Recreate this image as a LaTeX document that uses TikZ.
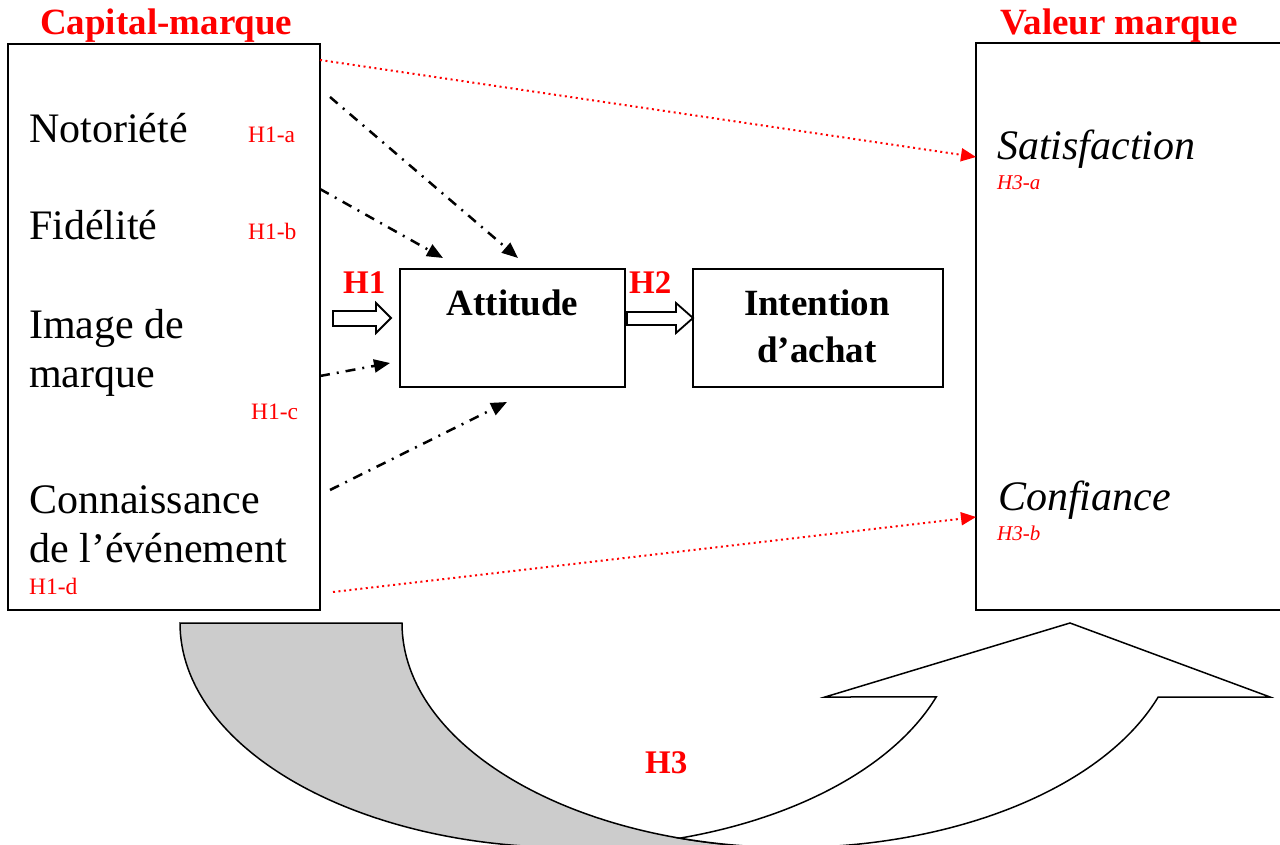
\documentclass[tikz,border=0pt]{standalone}
\usepackage{fontspec}
\setmainfont{Liberation Serif}
\usetikzlibrary{arrows.meta}
\definecolor{hred}{RGB}{255,0,0}
\definecolor{shade}{RGB}{204,204,204}
\tikzset{
  lbl/.style={inner sep=0pt, anchor=base west, font=\fontsize{42}{48}\selectfont},
  ilbl/.style={inner sep=0pt, anchor=base west, font=\fontsize{42}{48}\selectfont\itshape},
  hyp/.style={inner sep=0pt, anchor=base west, text=hred, font=\fontsize{23.5}{27}\selectfont},
  ihyp/.style={inner sep=0pt, anchor=base west, text=hred, font=\fontsize{21}{24}\selectfont\itshape},
  ttl/.style={inner sep=0pt, anchor=base west, text=hred, font=\fontsize{37}{42}\selectfont\bfseries},
  hlab/.style={inner sep=0pt, anchor=base west, text=hred, font=\fontsize{33}{38}\selectfont\bfseries},
  btxt/.style={inner sep=0pt, anchor=base, font=\fontsize{37}{42}\selectfont\bfseries},
  boxnode/.style={draw=black, line width=2pt, inner sep=0pt},
  ddarrow/.style={line width=2.5pt, dash pattern=on 10pt off 7pt on 2pt off 7pt, -{Triangle[length=16pt,width=13pt]}},
  dotarrow/.style={draw=hred, line width=2pt, dash pattern=on 2pt off 3.5pt, -{Triangle[length=15pt,width=13pt,fill=hred]}},
  blockarrow/.style={draw=black, line width=1.8pt, fill=white, line join=miter},
  curveband/.style={draw=black, line width=1.5pt}
}
\begin{document}
\begin{tikzpicture}[x=1pt,y=-1pt]
\useasboundingbox (0,0) rectangle (1280,845);
\clip (0,0) rectangle (1280,845);

% curved up arrow (H3)
\draw[curveband, fill=shade] (180,623) arc[start angle=180,end angle=90,x radius=389,y radius=224.5]
  -- (791,847.5) arc[start angle=90,end angle=180,x radius=389,y radius=224.5] -- cycle;
\draw[curveband, fill=white] (680.1,838.1) arc[start angle=73.4,end angle=19.25,x radius=389,y radius=224.5]
  -- (825,697) -- (1070,623) -- (1270,697) -- (1158.2,697)
  arc[start angle=19.25,end angle=106.6,x radius=389,y radius=224.5] -- cycle;
\node[hlab] (h3) at (645,773) {H3};

% boxes
\node[boxnode, minimum width=312pt, minimum height=566pt] (capital) at (164,327) {};
\node[boxnode, minimum width=314pt, minimum height=566.5pt] (valeur) at (1133,326.75) {};
\node[boxnode, minimum width=225pt, minimum height=118pt] (att) at (512.5,328) {};
\node[boxnode, minimum width=250pt, minimum height=118pt] (int) at (818,328) {};

% titles
\node[ttl] (tcap) at (40,35) {Capital-marque};
\node[ttl] (tval) at (1000,35) {Valeur marque};

% left box content
\node[lbl] (noto) at (29,143) {Notoriété};
\node[lbl] (fide) at (29,240) {Fidélité};
\node[lbl] (img1) at (29,338) {Image de};
\node[lbl] (img2) at (29,387) {marque};
\node[lbl] (con1) at (29,513) {Connaissance};
\node[lbl] (con2) at (29,562) {de l’événement};
\node[hyp] (h1a) at (248,143) {H1-a};
\node[hyp] (h1b) at (248,240) {H1-b};
\node[hyp] (h1c) at (251,419) {H1-c};
\node[hyp] (h1d) at (29,594) {H1-d};

% right box content
\node[ilbl] (sat) at (997,160) {Satisfaction};
\node[ihyp] (h3a) at (997,190) {H3-a};
\node[ilbl] (conf) at (998,510) {Confiance};
\node[ihyp] (h3b) at (997,540) {H3-b};

% centre texts
\node[btxt] (attT) at (512.5,315) {Attitude};
\node[btxt] (intT1) at (817,315) {Intention};
\node[btxt] (intT2) at (817,362) {d’achat};
\node[hlab] (h1) at (343,293) {H1};
\node[hlab] (h2) at (629,293) {H2};

% block arrows
\draw[blockarrow] (333,311) -- (376,311) -- (376,303) -- (391,318) -- (376,333) -- (376,326) -- (333,326) -- cycle;
\draw[blockarrow] (627,312) -- (676,312) -- (676,303) -- (693,318) -- (676,333) -- (676,325) -- (627,325) -- cycle;

% dash-dot arrows
\coordinate (d1s) at (330,97);  \coordinate (d1e) at (518,258);
\coordinate (d2s) at (320,189); \coordinate (d2e) at (443,258);
\coordinate (d3s) at (320,376); \coordinate (d3e) at (390,363);
\coordinate (d4s) at (330,490); \coordinate (d4e) at (507,402);
\draw[ddarrow] (d1s) -- (d1e);
\draw[ddarrow] (d2s) -- (d2e);
\draw[ddarrow] (d3s) -- (d3e);
\draw[ddarrow] (d4s) -- (d4e);

% red dotted arrows
\coordinate (r1s) at (320,60);  \coordinate (r1e) at (976,157);
\coordinate (r2s) at (333,592); \coordinate (r2e) at (976,517);
\draw[dotarrow] (r1s) -- (r1e);
\draw[dotarrow] (r2s) -- (r2e);
\end{tikzpicture}
\end{document}
